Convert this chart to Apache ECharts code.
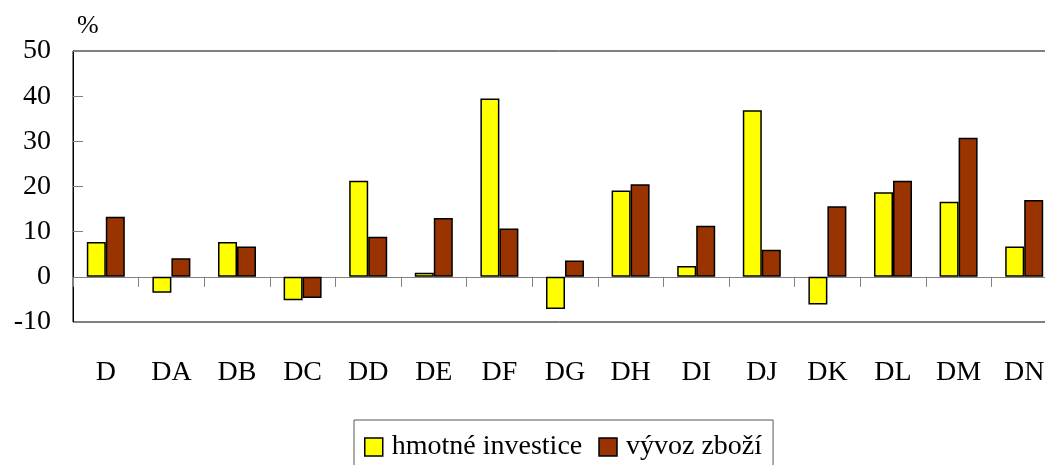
<!DOCTYPE html>
<html lang="cs">
<head>
	<meta charset="UTF-8">
	<title>hmotné investice a vývoz zboží</title>
	<script src="https://cdn.jsdelivr.net/npm/echarts@6/dist/echarts.min.js"></script>
	<style>
		html, body { margin: 0; padding: 0; background: #fff; }
		#main { width: 1045px; height: 465px; }
	</style>
</head>
<body>
	<div id="main"></div>
	<script type="text/javascript">
		// data (%)
		var kategorie = ['D', 'DA', 'DB', 'DC', 'DD', 'DE', 'DF', 'DG', 'DH', 'DI', 'DJ', 'DK', 'DL', 'DM', 'DN'];
		var hmotneInvestice = [7.7, -3.5, 7.7, -5.2, 21.3, 0.9, 39.5, -7.1, 19.1, 2.4, 36.9, -6.1, 18.7, 16.6, 6.7];
		var vyvozZbozi = [13.3, 4.1, 6.7, -4.7, 8.9, 13.0, 10.7, 3.6, 20.5, 11.3, 6.0, 15.6, 21.3, 30.8, 17.0];

		var font = "'Liberation Serif', 'Times New Roman', serif";
		var myChart = echarts.init(document.getElementById('main'));

		var option = {
			backgroundColor: '#fff',
			animation: false,
			textStyle: { fontFamily: font, color: '#000' },
			grid: {
				left: 73,
				top: 51,
				right: -12,   // pravý okraj je v originále oříznutý
				height: 271,
				outerBoundsMode: 'none',
				show: true,
				borderColor: '#000',
				borderWidth: 1
			},
			legend: {
				left: 354,
				top: 420,
				padding: [13, 11, 20, 10],
				borderColor: '#555',
				borderWidth: 1,
				icon: 'rect',
				itemWidth: 18,
				itemHeight: 18,
				itemGap: 16,
				itemStyle: { borderColor: '#000', borderWidth: 1.5 },
				textStyle: { fontFamily: font, fontSize: 28, color: '#000', padding: [0, 0, 0, 4] },
				data: ['hmotné investice', 'vývoz zboží']
			},
			xAxis: [{
				type: 'category',
				data: kategorie,
				axisLine: { onZero: true, lineStyle: { color: '#808080', width: 1 } },
				axisTick: { show: true, length: 10, lineStyle: { color: '#808080' } },
				axisLabel: { show: false }
			}, {
				type: 'category',
				data: kategorie,
				position: 'bottom',
				axisLine: { show: false, onZero: false },
				axisTick: { show: false },
				axisLabel: { fontFamily: font, fontSize: 28, color: '#000', margin: 37 }
			}],
			yAxis: {
				type: 'value',
				min: -10,
				max: 50,
				interval: 10,
				name: '%',
				nameLocation: 'end',
				nameGap: 12,
				nameTextStyle: { fontFamily: font, fontSize: 26, color: '#000', align: 'left', padding: [0, 0, 0, 4] },
				axisLine: { show: true, lineStyle: { color: '#000' } },
				axisTick: { show: true, inside: true, length: 10, lineStyle: { color: '#808080' } },
				splitLine: { show: false },
				axisLabel: { fontFamily: font, fontSize: 28, color: '#000', margin: 22 }
			},
			series: [{
				name: 'hmotné investice',
				type: 'bar',
				data: hmotneInvestice,
				barWidth: 19,
				barGap: '0%',
				itemStyle: { color: '#FFFF00', borderColor: '#000', borderWidth: 1.5 }
			}, {
				name: 'vývoz zboží',
				type: 'bar',
				data: vyvozZbozi,
				barWidth: 19,
				barGap: '0%',
				itemStyle: { color: '#993300', borderColor: '#000', borderWidth: 1.5 }
			}]
		};

		myChart.setOption(option);
	</script>
</body>
</html>
